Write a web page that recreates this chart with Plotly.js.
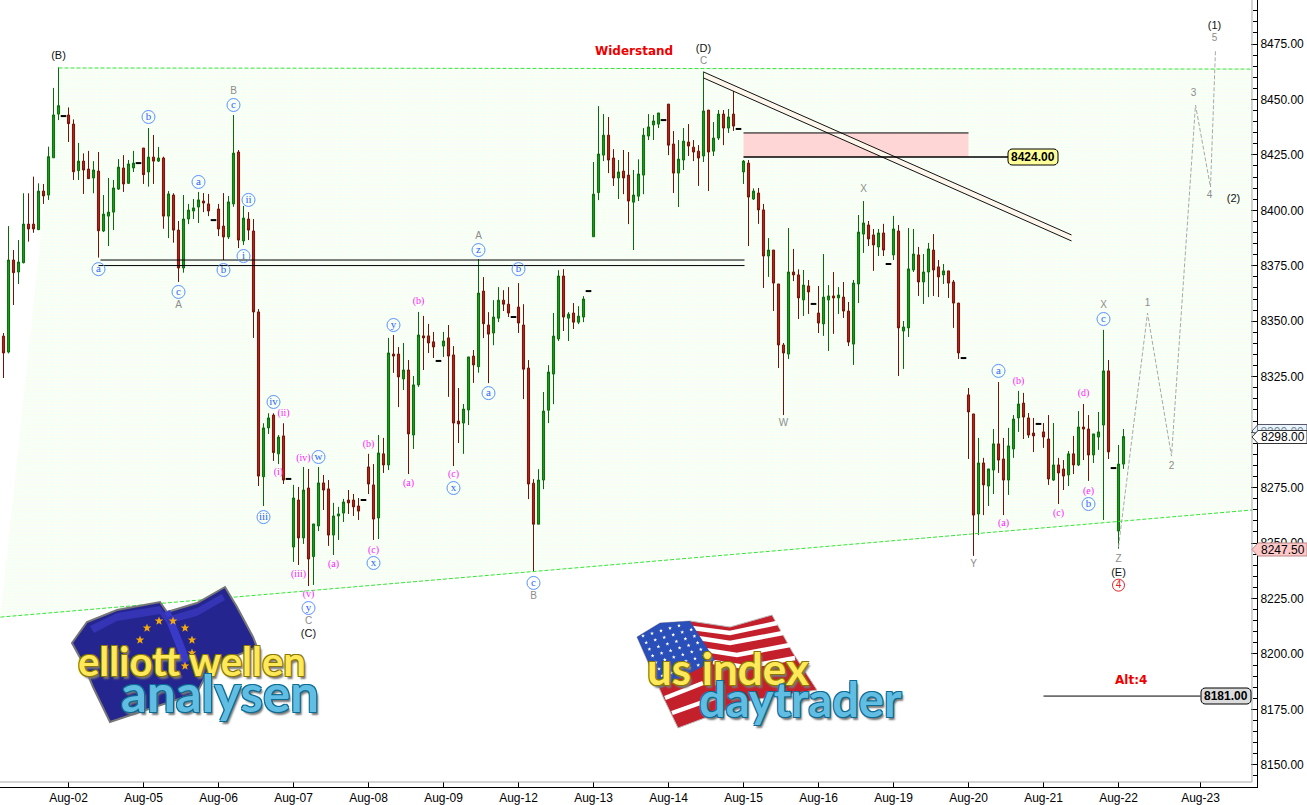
<!DOCTYPE html>
<html><head><meta charset="utf-8">
<script src="https://cdn.plot.ly/plotly-3.0.1.min.js"></script>
<style>html,body{margin:0;padding:0;background:#fff}</style></head>
<body><div id="chart" style="width:1307px;height:805px"></div>
<script>
// ---------- chart values ----------
const highs=[
8344.7,8392.9,8382.1,8386.6,8407.7,8407.7,8415.2,8412.2,8411.9,8428.7,
8455.2,8464.5,8442.5,8446.4,8441,8430.4,8425.7,8426.8,8422.2,8426.3,
8406.9,8414.6,8413.7,8423.1,8424.9,8422.7,8426.8,8421.3,8428.1,8437.1,
8434,8428.6,8424.2,8408.7,8407.7,8395.2,8406.9,8402.9,8405.1,8408.3,
8407.8,8407.4,8395.6,8402.9,8407.8,8406.5,8443,8427.2,8402,8399.2,
8396.1,8355.5,8304,8308.5,8308.5,8298.7,8304,8278.9,8276.2,8275.3,
8284.3,8283.4,8258.6,8284.3,8280.7,8278.4,8268.1,8266.3,8269.9,8273.9,
8272.1,8270.3,8269.4,8290.2,8285.6,8298.7,8297.4,8342.5,8343.8,8338.4,
8340.2,8332.5,8325.3,8354.2,8352.4,8348.8,8345.2,8332.1,8345.2,8348.3,
8338.8,8319.9,8312.7,8333.9,8337,8378,8369.9,8354.1,8359.5,8365.4,
8364,8365.4,8351.9,8367.2,8357.7,8332.5,8278.8,8283.3,8318.1,8330.2,
8353.7,8373,8373.5,8354.1,8358.2,8356.8,8361.3,8363.6,8421.8,8447,
8443.4,8442.1,8427.6,8422.7,8427.2,8426.3,8418.2,8423,8437.1,8443.4,
8443,8443.9,8440.7,8447.9,8435.8,8431.7,8437.1,8438.9,8431.7,8429.4,
8462.5,8445.2,8439.8,8445.2,8445.2,8445.7,8453.8,8436.7,8422.7,8422.7,
8409.9,8410.1,8402.9,8387.5,8382.1,8366.8,8340.2,8392,8382.6,8373.4,
8373.1,8368.6,8357.8,8365.9,8380.3,8366.3,8372.2,8365.4,8367.7,8358.7,
8368.6,8397.9,8404.2,8395.2,8391.6,8391.6,8393.9,8375.8,8397.5,8393.4,
8350.1,8392,8391.6,8383.5,8380.3,8385.3,8389.3,8377.6,8375.8,8372.7,
8368.6,8358.2,8333.4,8319.9,8308.2,8297.4,8288.4,8283.4,8301.4,8322.6,
8297.4,8301.9,8307.7,8318.6,8317.7,8308.6,8306.4,8303.7,8304.1,8307.7,
8304.1,8288.4,8287.4,8291.5,8298.3,8309.5,8312.7,8307.7,8299.2,8309.1,
8346.1,8332.5,8283.8,8294.2,8301.4];
const lows=[
8324.4,8335.5,8357.3,8366.8,8376.1,8385.9,8389.9,8391.1,8402.9,8404.7,
8423.7,8440.7,8442.5,8430.8,8413.7,8413.7,8407.4,8414.3,8407.7,8378.7,
8390.2,8383.9,8391.1,8409.2,8408.3,8411.9,8417.3,8421.3,8411.9,8410.7,
8411.9,8421.8,8391.7,8387.5,8385.4,8367.7,8371.9,8393.8,8396.1,8394.3,
8399.2,8397.4,8395.6,8388.4,8377.6,8387.1,8401.6,8383,8384.4,8386.6,
8342.5,8275.7,8266.7,8299.2,8287,8285.6,8276.6,8278.9,8241.5,8240.1,
8249.6,8230.6,8231.1,8255.4,8264.9,8248.7,8244.6,8251.4,8259.5,8263.1,
8262.2,8260.4,8269.4,8272.1,8251.4,8251.8,8281.6,8282.9,8326.7,8311.3,
8319,8281.1,8292.4,8320.4,8328,8335.7,8333.4,8332.1,8333.9,8315.9,
8284.7,8295.1,8290.2,8303.2,8322.2,8326.8,8342.4,8322.1,8339.2,8349.6,
8354.6,8351.9,8351.9,8344.7,8314.9,8269.8,8236.9,8258.5,8274.3,8304.1,
8312.6,8341.1,8345.6,8341.1,8346.5,8348.7,8349.6,8363.6,8388.1,8404.6,
8422.2,8416.8,8411,8405.1,8407.3,8393.8,8382.1,8404.2,8407.3,8431.7,
8431.7,8437.1,8440.7,8424.9,8407.8,8401.5,8418.2,8424.5,8422.2,8411,
8421.8,8408.7,8424.5,8431.7,8429.4,8434.9,8435.8,8436.7,8411.9,8383.9,
8404.7,8393.9,8365,8370,8354.6,8328.9,8307.7,8333,8368.1,8351,
8352.4,8353.3,8357.8,8344.7,8343.4,8336.6,8344.3,8353.3,8351.5,8338.8,
8330.3,8358.2,8380.8,8383.9,8372.7,8379.4,8379.4,8375.8,8377.6,8325.3,
8328.5,8342.9,8372.2,8361.4,8357.8,8360.9,8361.4,8360.9,8366.8,8360.5,
8347,8333,8333.4,8287.9,8244.2,8253.6,8262.6,8266.7,8272.1,8281.6,
8262.6,8271.7,8288.4,8300.1,8296.9,8297.4,8291,8303.7,8292.9,8276.2,
8278,8267.6,8273.9,8275.7,8281.1,8284.7,8287.4,8278,8286.1,8292,
8260.4,8287.9,8283.8,8247.5,8283.4];
const opens=[
8343.3,8336.1,8377.6,8372.2,8376.4,8393.8,8393.8,8391.3,8408.7,8406.9,
8423.7,8443.4,8442.5,8443,8438.9,8417.9,8422.2,8418.6,8414.6,8417.7,
8390.7,8397.4,8399.2,8409.6,8419.1,8412.2,8419.1,8421.3,8428.1,8417.3,
8424,8422.2,8423.6,8397.4,8406.9,8391.1,8374,8396.1,8399.7,8401.5,
8404.2,8402.9,8395.6,8400.6,8392.9,8388,8402.9,8426.3,8386.2,8396.1,
8390.7,8354.2,8279.9,8301.9,8307.7,8290.2,8298.3,8278.9,8248.2,8269.4,
8252.3,8274.8,8243.9,8257.7,8277.1,8274.4,8253.6,8262.2,8263.5,8269.4,
8269.4,8266.7,8269.4,8284.3,8276.2,8261.3,8290.2,8285.2,8335.2,8335.2,
8324,8328,8298.7,8321.3,8343.4,8343.4,8340.7,8332.1,8338.8,8342.5,
8334.8,8305,8304.1,8310,8334.3,8329.5,8363.6,8348.3,8344.7,8351.4,
8359.5,8357.7,8351.9,8356.4,8348.3,8328.9,8277,8258.5,8278.4,8309.9,
8326.2,8342,8370.4,8351.4,8353.7,8349.6,8351.9,8363.6,8388.1,8408,
8424.9,8433.9,8423.6,8414.6,8417.7,8415.9,8403.7,8406.4,8415.9,8433.5,
8438.5,8438.9,8440.7,8447.9,8429.9,8416.8,8422.7,8430.8,8428.5,8426.7,
8424.5,8445.2,8426.7,8432.6,8443.4,8437.1,8443.4,8436.7,8417.3,8421.3,
8405.1,8407.8,8400.2,8379.4,8382.1,8366.8,8339.3,8335.2,8372.2,8370.9,
8359.6,8365.9,8357.8,8353.7,8348.8,8359.6,8361.4,8360.5,8360.9,8354.6,
8339.7,8366.8,8389.3,8393.4,8388.9,8383.5,8389.8,8375.8,8379.9,8390.7,
8345.6,8347,8373.1,8379.9,8367.7,8372.2,8382.1,8374.5,8370.9,8372.7,
8367.7,8358.2,8333.4,8316.8,8308.2,8263.1,8286.1,8275.7,8282.9,8294.7,
8287.9,8278.4,8292.4,8306.4,8313.1,8306.4,8299.6,8303.7,8300.1,8296.9,
8278.4,8285.2,8283.4,8280.7,8290.2,8285.2,8302.3,8301.4,8289.7,8297.8,
8303.2,8327.6,8283.8,8255.4,8285.6];
const closes=[
8335.7,8377.6,8371.9,8376.7,8393.8,8391.6,8391.6,8408.7,8406.5,8424.2,
8443,8447.2,8442.5,8439.1,8417.4,8422.2,8418.2,8414.3,8418.2,8390.8,
8398.3,8399.2,8410.1,8419.5,8411.9,8420.9,8421.3,8421.3,8416.1,8424,
8422.2,8423.6,8397.4,8407.4,8391.1,8374,8396.1,8400.1,8401.1,8404.7,
8403.3,8399.7,8395.6,8391.6,8388,8403.8,8425.8,8386.6,8396.5,8391.1,
8354.2,8280.2,8301.9,8306.4,8290.8,8297.8,8278.4,8278.9,8270.3,8252.3,
8273.9,8242.8,8258.6,8277.1,8273.9,8253.6,8262.2,8263.1,8268.5,8268.1,
8266.3,8264.4,8269.4,8276.6,8260.8,8290.6,8285.2,8335.7,8334.3,8324.9,
8328,8299.2,8321.3,8343.8,8342.5,8340.2,8338.4,8332.1,8341.1,8334.3,
8304.1,8303.7,8310.4,8333.9,8330.3,8362.7,8348.9,8344.2,8351.9,8359.5,
8357.7,8353.7,8351.9,8349.2,8328.4,8276.6,8258.5,8278.4,8309.5,8327.1,
8343.3,8370.4,8351.9,8353.2,8349.6,8352.3,8360,8363.6,8407.3,8425.4,
8433.9,8422.7,8414.6,8417.3,8414.6,8404.2,8406.9,8416.4,8433.9,8437.6,
8440.3,8443.9,8440.7,8429.4,8416.8,8423.1,8431.2,8429,8426.3,8423.6,
8444.8,8426.3,8432.6,8443.4,8437.1,8442.1,8438,8436.7,8422.2,8406,
8408.7,8400.2,8379.4,8382.1,8367.2,8339.3,8335.7,8372.2,8370.9,8360.5,
8366.3,8363.2,8357.8,8349.2,8360.9,8361.4,8360.5,8361.8,8354.6,8340.6,
8367.2,8390.2,8394.3,8387.1,8384.4,8389.8,8382.1,8375.8,8391.6,8347,
8347.4,8373.6,8380.3,8367.7,8372.2,8382.6,8373.1,8370,8372.7,8367.2,
8358.2,8335.7,8333.4,8309.1,8262.6,8286.1,8276.2,8283.4,8294.7,8287.4,
8278.4,8293.8,8305.9,8312.7,8306.8,8298.7,8298.3,8303.7,8297.8,8278.9,
8285.2,8281.6,8280.2,8290.2,8285.2,8302.3,8301.4,8289.7,8299.2,8300.1,
8327.6,8291.1,8283.8,8285.6,8298];

const dateLabels=['Aug-02','Aug-05','Aug-06','Aug-07','Aug-08','Aug-09','Aug-12','Aug-13','Aug-14','Aug-15','Aug-16','Aug-19','Aug-20','Aug-21','Aug-22','Aug-23'];
const dateBars=[13,28,43,58,73,88,103,118,133,148,163,178,193,208,223,239.4];

// trend channel, levels and forecast path (bar number, price)
const topLineX=[11,249.8],        topLineY=[8464.2,8463.7];
const bottomLineX=[-0.6,249.8],   bottomLineY=[8216.6,8264.9];
const flatUpperX=[19.4,148.2],    flatUpperY=[8377.6,8377.6];
const flatLowerX=[19,148.2],      flatLowerY=[8375.1,8375.1];
const fallUpperX=[140,213.6],     fallUpperY=[8462.4,8388.9];
const fallLowerX=[140,213.6],     fallLowerY=[8459.7,8386.2];
const zoneX=[148,193],            zoneY=[8424,8434.9];
const level8424X=[148,201],       level8424Y=[8424,8424];
const level8181X=[208,239.4],     level8181Y=[8181,8181];
const forecastX=[223,228.8,233.6,238.4,241.4,242.4];
const forecastY=[8248.2,8353.7,8289.2,8447.5,8410.5,8472.3];

// wave labels (text, bar number, price)
const blueText=['a','b','a','c','ii','i','c','b','iv','w','iii','y','x','a','x','c','y','z','b','a','c','b'];
const blueBar=[19,29,39,46,49,48,35,44,54,63,52,78,74,97,90,106,61,95,103,199,220,217];
const bluePrice=[8373.5,8442.1,8412.8,8447.5,8404.7,8379.4,8363.2,8373.1,8313.6,8288.8,8261.7,8348.3,8241,8317.6,8274.8,8232,8220.7,8382.1,8373.5,8327.6,8351,8267.6];
const pinkText=['(ii)','(iv)','(i)','(iii)','(a)','(b)','(a)','(c)','(b)','(c)','(v)','(b)','(d)','(a)','(c)','(e)'];
const pinkBar=[56,60,55,59,66,83,81,90,73,74,61,203,216,200,211,217];
const pinkPrice=[8308.6,8288.3,8281.6,8236,8240.5,8358.7,8277,8280.7,8294.6,8246.8,8226.6,8323,8317.2,8258.6,8263.5,8273.4];
const grayText=['A','B','C','A','B','C','X','W','Y','X','Z','1','2','3','4','5'];
const grayBar=[35,46,61,95,106,140,172,156,194,220,223,228.8,233.6,238,241.2,242.2];
const grayPrice=[8357.3,8453.4,8214.8,8388.4,8225.7,8466.9,8409.2,8303.7,8240.1,8357.3,8242.8,8357.8,8284.3,8452.5,8406.5,8477.3];
const blackText=['(B)','(D)','(C)','(E)','(1)','(2)'];
const blackBar=[11,140,61,223,242.2,246];
const blackPrice=[8469.6,8472.7,8209,8236.5,8483.1,8405.1];

// ---------- build ----------
const bars=highs.map((_,i)=>i);
const isDoji=i=>highs[i]===lows[i];
const cIdx=bars.filter(i=>!isDoji(i)), dIdx=bars.filter(isDoji);

const PW=1257,PH=787;
const xp=px=>px/PW, yp=py=>1-py/PH;
function poly(pts,close){return pts.map((p,k)=>(k?'L':'M')+xp(p[0]).toFixed(5)+','+yp(p[1]).toFixed(5)).join(' ')+(close===false?'':' Z');}
function pshape(pts,fill,line,w,close){return {type:'path',xref:'paper',yref:'paper',path:poly(pts,close),fillcolor:fill||'rgba(0,0,0,0)',line:{color:line||'rgba(0,0,0,0)',width:w||0},layer:'above'};}
const top2={xaxis:'x2',yaxis:'y2'};
function lineTrace(x,y,color,width,dash){return Object.assign({type:'scatter',mode:'lines',x:x,y:y,line:{color:color,width:width,dash:dash||'solid'},hoverinfo:'skip',showlegend:false},top2);}
function textTrace(x,y,t,font){return Object.assign({type:'scatter',mode:'text',x:x,y:y,text:t,textposition:'middle center',textfont:font,hoverinfo:'skip',showlegend:false,cliponaxis:false},top2);}
function roundRect(x0,y0,x1,y1,r){const a=[];for(const [cx,cy,s] of [[x1-r,y0+r,-90],[x1-r,y1-r,0],[x0+r,y1-r,90],[x0+r,y0+r,180]])for(let d=0;d<=90;d+=30){const t=(s+d)*Math.PI/180;a.push([cx+r*Math.cos(t),cy+r*Math.sin(t)]);}return a;}
function star(cx,cy,r){const a=[];for(let k=0;k<10;k++){const t=-Math.PI/2+k*Math.PI/5,q=k%2?r*0.42:r;a.push([cx+q*Math.cos(t),cy+q*Math.sin(t)]);}return a;}
function tag(cy,h,fill,line){const t=cy-h/2,b=cy+h/2;return pshape([[1252,cy],[1258,t],[1307,t],[1307,b],[1258,b]],fill,line,1);}

const traces=[
 // fills stay on the base axes so the candles (on the overlaid axes) draw above them
 {type:'scatter',mode:'lines',x:[bottomLineX[0],topLineX[0],topLineX[1],bottomLineX[1]],y:[bottomLineY[0],topLineY[0],topLineY[1],bottomLineY[1]],
  fill:'toself',line:{width:0,color:'rgba(0,0,0,0)'},fillcolor:'#f5fffd',
  fillpattern:{shape:'.',bgcolor:'#f1fffe',fgcolor:'#fffff0',size:3,solidity:0.5,fillmode:'replace'},hoverinfo:'skip',showlegend:false},
 {type:'scatter',mode:'lines',x:[zoneX[0],zoneX[0],zoneX[1],zoneX[1]],y:[zoneY[0],zoneY[1],zoneY[1],zoneY[0]],fill:'toself',fillcolor:'#ffd6d6',line:{width:0,color:'rgba(0,0,0,0)'},hoverinfo:'skip',showlegend:false},
 {type:'scatter',mode:'lines',x:[fallUpperX[0],fallUpperX[1],fallLowerX[1],fallLowerX[0]],y:[fallUpperY[0],fallUpperY[1],fallLowerY[1],fallLowerY[0]],fill:'toself',fillcolor:'#fff6ec',line:{width:0,color:'rgba(0,0,0,0)'},hoverinfo:'skip',showlegend:false},
 lineTrace(topLineX,topLineY,'#33e633',1,'4px,2px'),
 lineTrace(bottomLineX,bottomLineY,'#33e633',1,'4px,2px'),
 Object.assign({type:'candlestick',x:cIdx,open:cIdx.map(i=>opens[i]),high:cIdx.map(i=>highs[i]),low:cIdx.map(i=>lows[i]),close:cIdx.map(i=>closes[i]),
  whiskerwidth:0,line:{width:1},
  increasing:{line:{color:'#0a6a0a',width:1},fillcolor:'#1c981c'},
  decreasing:{line:{color:'#751208',width:1},fillcolor:'#b8221a'},hoverinfo:'skip',showlegend:false},top2),
 Object.assign({type:'scatter',mode:'markers',x:dIdx,y:dIdx.map(i=>closes[i]),marker:{symbol:'line-ew',size:4,line:{color:'#000',width:2}},hoverinfo:'skip',showlegend:false},top2),
 lineTrace(flatUpperX,flatUpperY,'#000',1),
 lineTrace(flatLowerX,flatLowerY,'#000',1),
 lineTrace(fallUpperX,fallUpperY,'#111',1),
 lineTrace(fallLowerX,fallLowerY,'#111',1),
 lineTrace([zoneX[0],zoneX[1]],[zoneY[1],zoneY[1]],'#000',1),
 lineTrace(level8424X,level8424Y,'#000',1.5),
 lineTrace(level8181X,level8181Y,'#000',1),
 lineTrace(forecastX,forecastY,'#a8a8a8',1,'4px,2px'),
 Object.assign({type:'scatter',mode:'markers+text',x:blueBar,y:bluePrice,text:blueText,textposition:'middle center',
  textfont:{family:'Liberation Serif',size:11,color:'#2a66ff'},marker:{symbol:'circle-open',size:13,line:{color:'#5b92ff',width:1},color:'#5b92ff'},hoverinfo:'skip',showlegend:false,cliponaxis:false},top2),
 Object.assign({type:'scatter',mode:'markers+text',x:[223],y:[8231],text:['4'],textposition:'middle center',
  textfont:{family:'Liberation Sans',size:10,color:'#e02020'},marker:{symbol:'circle-open',size:12,line:{color:'#e02020',width:1},color:'#e02020'},hoverinfo:'skip',showlegend:false},top2),
 textTrace(pinkBar,pinkPrice,pinkText,{family:'Liberation Serif',size:10,color:'#ff18ff'}),
 textTrace(grayBar,grayPrice,grayText,{family:'Liberation Sans',size:10,color:'#8c8c8c'}),
 textTrace(blackBar,blackPrice,blackText,{family:'Liberation Sans',size:11,color:'#111'})
];

// decoration: frame, tags, logos
const shapes=[
 pshape([[1252,0],[1252,782]],null,'#aaaaaa',1,false),
 pshape([[0,782],[1252,782]],null,'#aaaaaa',1,false),
 pshape(roundRect(1008,149,1058,165,4),'#ffff99','#000',1),
 pshape(roundRect(1201,688,1251,704,4),'#dcdcdc','#000',1),
 tag(431,13,'rgba(214,236,255,0.55)','#556'),
 tag(437,13,'#ffffff','#333'),
 tag(549.5,13,'#ffc9c9','#b88'),
 // EU flag
 pshape([[72,643],[87,622],[117,610],[160,602],[167,612],[197,603],[225,587],[237,607],[253,637],[257,647],[210,667],[197,693],[110,722],[93,687],[83,663]],'#25258f','#777777',2),
 pshape([[163,613],[170,610],[190,660],[183,664]],'#3a3ac8'),
 pshape([[90,626],[117,613],[160,606],[167,617],[197,608],[222,594],[225,600],[197,616],[167,624],[160,614],[117,621],[94,633]],'#3434b4')
];
[[147,628],[159,621],[173,621],[185,628],[192,640],[185,666],[140,640],[192,653]].forEach(p=>shapes.push(pshape(star(p[0],p[1],4.5),'#f4a90a')));
// US flag
shapes.push(pshape([[637,637],[660,623],[690,621],[730,627],[772,615],[793,653],[817,690],[753,700],[678,728],[663,697]],'#c4202c','#bbbbbb',1));
[[[692,628],[730,633],[777,623]],[[698,638],[730,643],[783,633]],[[705,650],[737,655],[790,645]],[[713,662],[745,667],[795,658]],[[665,698],[703,683]],[[672,713],[717,697]]]
 .forEach(s=>shapes.push(pshape(s,null,'#ffffff',4.5,false)));
shapes.push(pshape([[637,637],[660,623],[690,621],[715,660],[700,668],[660,688]],'#2a4fb8'));
for(let r=0;r<7;r++)for(let c=0;c<6;c++){
 const cx=643+c*9+r*3.2, cy=636-c*2.6+r*6.6;
 if(cy<628-(cx-640)*0.1) continue;
 if(cx>742-(660-cy)*0.9) continue;
 shapes.push(pshape(star(cx,cy,2),'#ffffff'));
}

const shadow=c=>`-1px -1px 0 ${c},1px -1px 0 ${c},-1px 1px 0 ${c},1px 1px 0 ${c},2px 3px 2px #777`;
const ann=(px,py,text,font,extra)=>Object.assign({xref:'paper',yref:'paper',x:xp(px),y:yp(py),text:text,showarrow:false,xanchor:'center',yanchor:'middle',font:font},extra||{});
const sans=(s,c,b)=>({family:'Liberation Sans',size:s,color:c,weight:b?700:400});
const annotations=[
 ann(634,51,'Widerstand',{family:'DejaVu Sans',size:12,color:'#ee0000',weight:700}),
 ann(1131,680,'Alt:4',{family:'DejaVu Sans',size:12,color:'#ee0000',weight:700}),
 ann(1033,157,'8424.00',sans(12,'#000',true)),
 ann(1226,696,'8181.00',sans(12,'#000',true)),
 ann(1283,437,'8298.00',sans(12,'#000')),
 ann(1283,549.5,'8247.50',sans(12,'#000')),
 ann(192,661,'elliott wellen',{family:'Lato',size:40,color:'#ffe95a',weight:700,shadow:shadow('#8a7800')}),
 ann(220,692,'analysen',{family:'Lato',size:51,color:'#62bde2',weight:700,shadow:shadow('#0c6c94')}),
 ann(728,668,'us index',{family:'Lato',size:44,color:'#ffe95a',weight:700,shadow:shadow('#8a7800')}),
 ann(800,699,'daytrader',{family:'Lato',size:47,color:'#62bde2',weight:700,shadow:shadow('#0c6c94')})
];

// half-bar offset keeps each 1px wick on a whole pixel column
const XR=[-0.7,250.7], YR=[8140,8494.84];
const layout={
 width:1307,height:805,autosize:false,
 margin:{l:0,r:50,t:0,b:18,pad:0},
 paper_bgcolor:'#fff',plot_bgcolor:'#fff',
 showlegend:false,boxmode:'overlay',boxgap:0.4,
 font:{family:'Liberation Sans',size:12,color:'#000'},
 xaxis:{range:XR,tickmode:'array',tickvals:dateBars,ticktext:dateLabels,ticks:'inside',ticklen:5,tickcolor:'#000',
  showgrid:false,zeroline:false,showline:true,linecolor:'#000',linewidth:1,rangeslider:{visible:false},tickfont:{family:'Liberation Sans',size:12,color:'#000'}},
 yaxis:{side:'right',range:YR,tick0:8150,dtick:25,tickformat:'.2f',ticks:'inside',ticklen:6,tickcolor:'#000',
  minor:{tick0:8150,dtick:5,ticks:'inside',ticklen:4,tickcolor:'#000',showgrid:false},
  showgrid:false,zeroline:false,showline:true,linecolor:'#000',linewidth:1,tickfont:{family:'Liberation Sans',size:12,color:'#000'}},
 xaxis2:{overlaying:'x',range:XR,visible:false,rangeslider:{visible:false}},
 yaxis2:{overlaying:'y',range:YR,visible:false,side:'right'},
 shapes:shapes,annotations:annotations
};
Plotly.newPlot('chart',traces,layout,{displayModeBar:false,responsive:false});
</script></body></html>
